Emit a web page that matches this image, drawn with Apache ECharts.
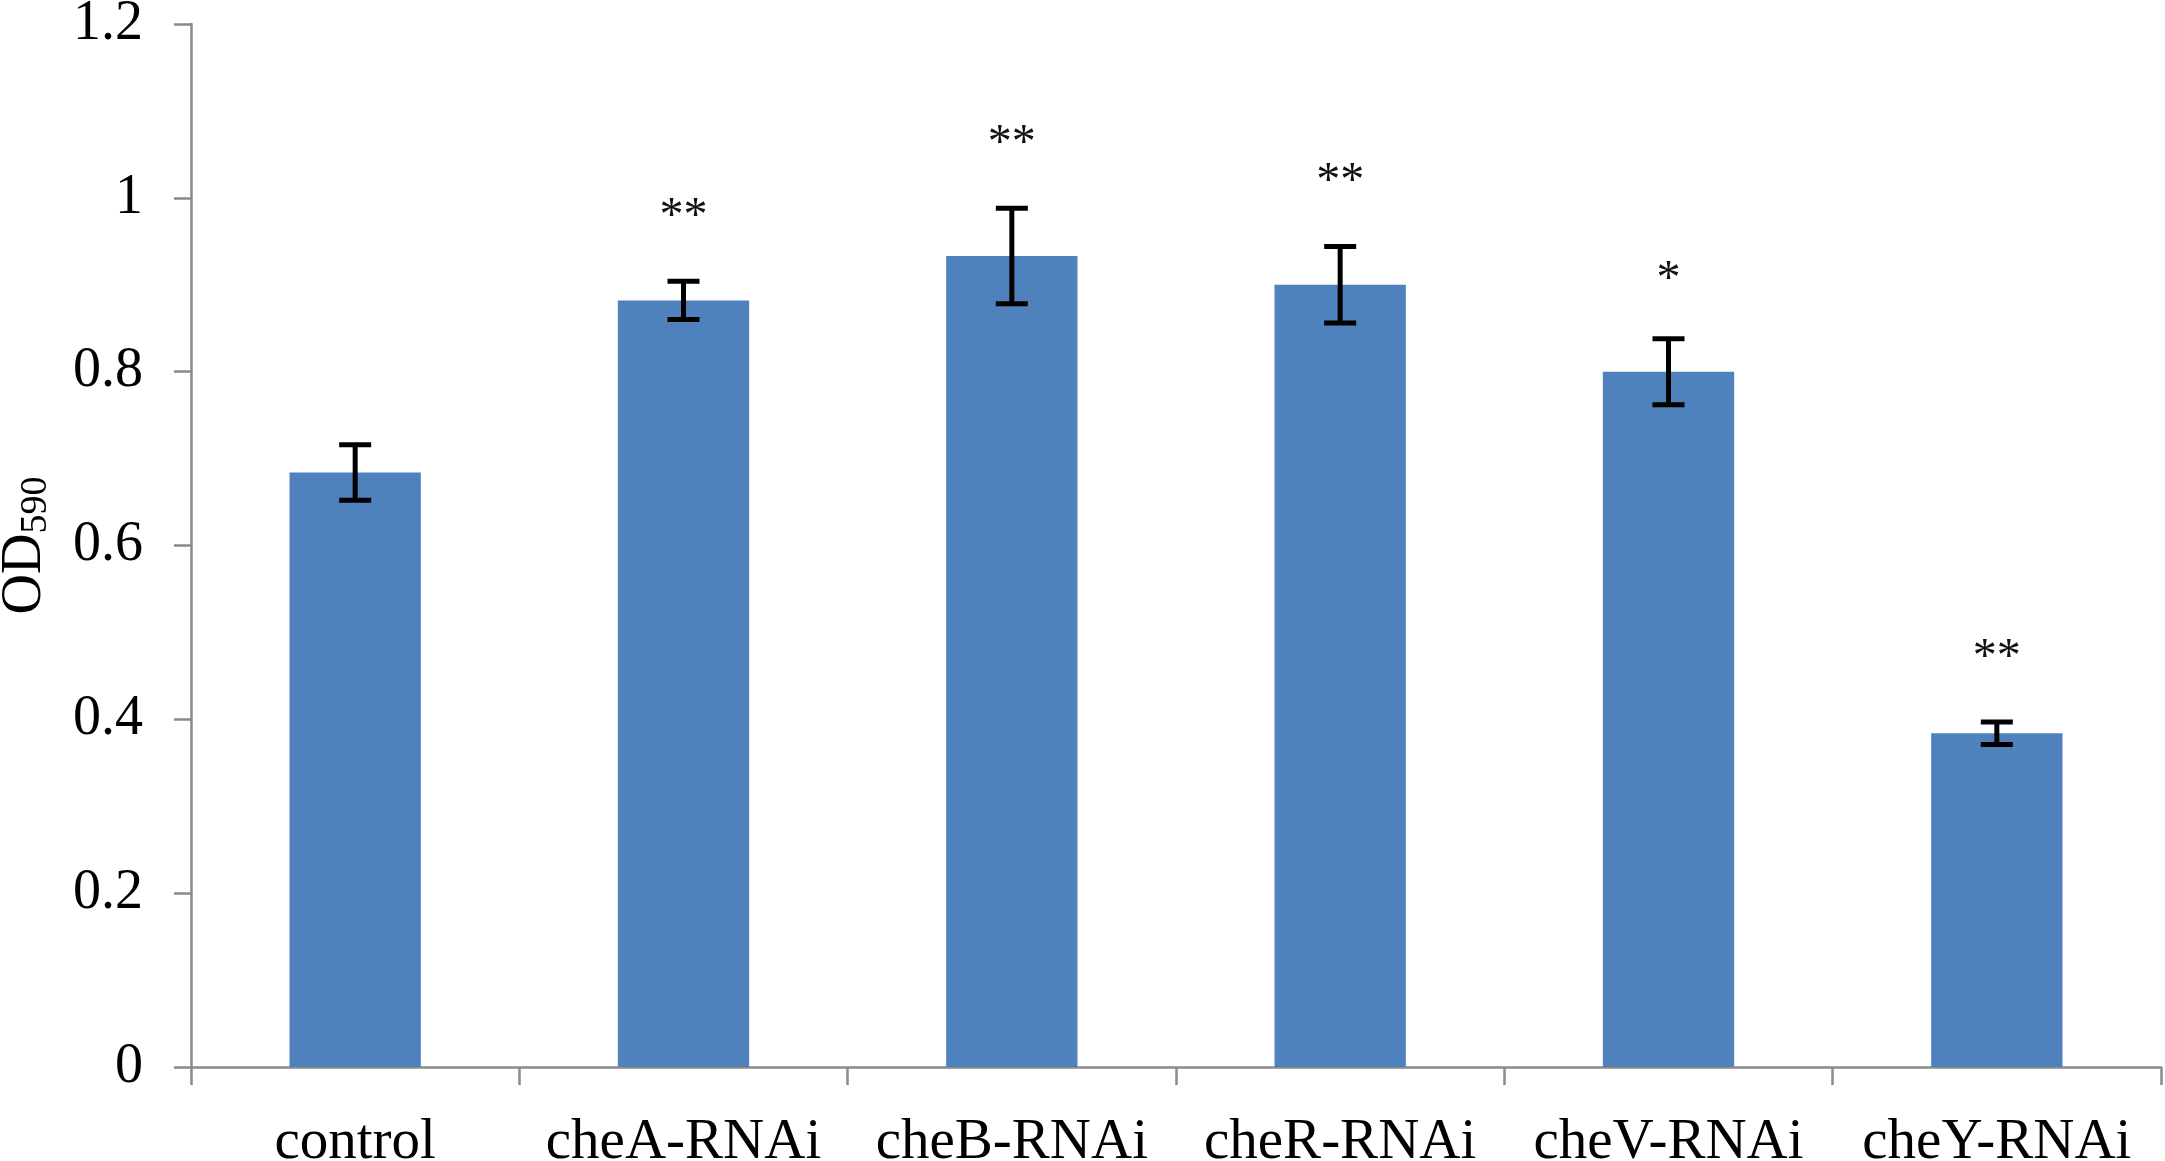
<!DOCTYPE html>
<html>
<head>
<meta charset="utf-8">
<title>OD590</title>
<script src="https://cdn.jsdelivr.net/npm/echarts@6/dist/echarts.min.js"></script>
<style>
    html, body { margin: 0; padding: 0; background: #fff; }
    #chart { width: 2165px; height: 1161px; }
</style>
</head>
<body>
<div id="chart"></div>
<script>
var categories = ['control', 'cheA-RNAi', 'cheB-RNAi', 'cheR-RNAi', 'cheV-RNAi', 'cheY-RNAi'];
var means = [0.684, 0.882, 0.933, 0.900, 0.800, 0.384];
var errors = [0.032, 0.022, 0.055, 0.044, 0.038, 0.013];
var stars = ['', '**', '**', '**', '*', '**'];
var yTicks = [0, 0.2, 0.4, 0.6, 0.8, 1, 1.2];

var serif = '"Liberation Serif", "Times New Roman", serif';

var errData = means.map(function (m, i) {
    return [i, m - errors[i], m + errors[i], stars[i]];
});

function renderError(params, api) {
    var x = api.value(0);
    var low = api.coord([x, api.value(1)]);
    var high = api.coord([x, api.value(2)]);
    var cap = 16;
    var style = { stroke: '#000', lineWidth: 5 };
    var children = [
        { type: 'line', shape: { x1: high[0], y1: high[1], x2: low[0], y2: low[1] }, style: style },
        { type: 'line', shape: { x1: high[0] - cap, y1: high[1], x2: high[0] + cap, y2: high[1] }, style: style },
        { type: 'line', shape: { x1: low[0] - cap, y1: low[1], x2: low[0] + cap, y2: low[1] }, style: style }
    ];
    var s = errData[params.dataIndex][3];
    if (s) {
        // single star sits a little lower than the double ones
        var gap = s.length > 1 ? 64 : 58;
        children.push({
            type: 'text',
            style: {
                text: s,
                x: high[0],
                y: high[1] - gap,
                align: 'center',
                verticalAlign: 'middle',
                fontFamily: serif,
                fontSize: 48,
                fill: '#111'
            }
        });
    }
    return { type: 'group', children: children };
}

var chart = echarts.init(document.getElementById('chart'));
chart.setOption({
    backgroundColor: '#fff',
    animation: false,
    grid: {
        left: 191,
        right: 4,
        top: 24,
        bottom: 94,
        containLabel: false,
        outerBoundsMode: 'none'
    },
    xAxis: {
        type: 'category',
        data: categories,
        axisLine: { lineStyle: { color: '#8a8a8a', width: 2.5 } },
        axisTick: { show: true, length: 18, lineStyle: { color: '#8a8a8a', width: 2.5 } },
        axisLabel: {
            interval: 0,
            margin: 48,
            color: '#000',
            fontFamily: serif,
            fontSize: 57
        }
    },
    yAxis: {
        type: 'value',
        min: yTicks[0],
        max: yTicks[yTicks.length - 1],
        interval: 0.2,
        name: '{a|OD}{b|590}',
        nameLocation: 'middle',
        nameRotate: 90,
        nameGap: 136,
        nameTextStyle: {
            rich: {
                a: { fontFamily: serif, fontSize: 56, color: '#000' },
                b: { fontFamily: serif, fontSize: 38, color: '#000', padding: [22, 0, 0, 0] }
            }
        },
        splitLine: { show: false },
        axisLine: { show: true, lineStyle: { color: '#8a8a8a', width: 2.5 } },
        axisTick: { show: true, length: 17, lineStyle: { color: '#8a8a8a', width: 2.5 } },
        axisLabel: {
            margin: 48,
            color: '#000',
            fontFamily: serif,
            fontSize: 56,
            formatter: function (v) { return String(+v.toFixed(1)); }
        }
    },
    series: [
        {
            name: 'OD590',
            type: 'bar',
            data: means,
            barWidth: '40%',
            itemStyle: { color: '#4f81bd' }
        },
        {
            name: 'error',
            type: 'custom',
            data: errData,
            renderItem: renderError,
            encode: { x: 0, y: [1, 2] },
            z: 10
        }
    ]
});

window.addEventListener('resize', function () {
    chart.resize();
});
</script>
</body>
</html>
